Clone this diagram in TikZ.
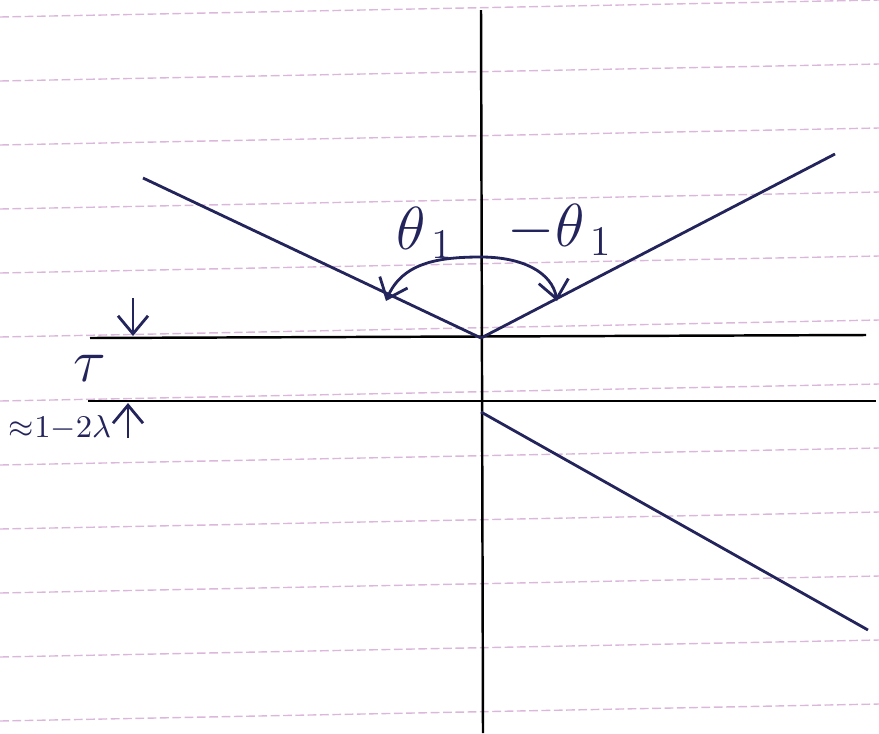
\documentclass[tikz,border=0pt]{standalone}
\usepackage{amsmath,amssymb}
\usepackage{tikz}
\usetikzlibrary{arrows.meta}

\definecolor{ink}{rgb}{0.14,0.14,0.36}
\definecolor{ruled}{rgb}{0.86,0.72,0.86}

\tikzset{
  ruling/.style={ruled, line width=0.4pt, dash pattern=on 2.5pt off 1pt},
  axis/.style={black, line width=0.7pt},
  ray/.style={ink, line width=0.8pt},
  tick/.style={ink, line width=0.8pt},
  lbl/.style={ink, inner sep=0pt}
}

\begin{document}
\begin{tikzpicture}[x=0.01cm, y=-0.01cm, >={Straight Barb[length=1.8mm,width=3mm]}]
	\useasboundingbox (0,0) rectangle (879,733);
	
	% notebook ruling
	\foreach \y in {17,81,...,721}
		\draw[ruling] (0,\y) -- (879,{\y-17});
	
	% axes and interfaces
	\coordinate (top) at (481,10);
	\coordinate (bot) at (483,733);
	\coordinate (o) at (481,338);
	\coordinate (s1) at (90,338);
	\coordinate (s2) at (866,335);
	\coordinate (b1) at (88,401);
	\coordinate (b2) at (876,401);
	\draw[axis] (top) -- (bot);
	\draw[axis] (s1) -- (s2);
	\draw[axis] (b1) -- (b2);
	
	% rays
	\coordinate (inc) at (143,178);
	\coordinate (refl) at (835,154);
	\coordinate (t0) at (481,412);
	\coordinate (t1) at (868,630);
	\draw[ray] (inc) -- (o);
	\draw[ray] (o) -- (refl);
	\draw[ray] (t0) -- (t1);
	
	% angle arc
	\coordinate (aL) at (386,301);
	\coordinate (aT) at (481,257);
	\coordinate (aR) at (557,301);
	\draw[tick, <->] (aL) .. controls (402,262) and (440,257) .. (aT)
		.. controls (522,257) and (552,272) .. (aR);
	
	% thickness arrows
	\coordinate (dA) at (133,298);
	\coordinate (dB) at (133,336);
	\coordinate (uA) at (128,438);
	\coordinate (uB) at (128,403);
	\draw[tick, ->] (dA) -- (dB);
	\draw[tick, ->] (uA) -- (uB);
	
	% labels
	\node[lbl, font=\fontsize{17}{20}\selectfont] (th) at (425,233) {$\theta_{\,1}$};
	\node[lbl, font=\fontsize{17}{20}\selectfont] (mth) at (560,230) {$-\theta_{\,1}$};
	\node[lbl, font=\fontsize{19}{22}\selectfont] (tau) at (90,368) {$\tau$};
	\node[lbl, font=\fontsize{9}{11}\selectfont] (width) at (60,428) {${\approx}1{-}2\lambda$};
\end{tikzpicture}
\end{document}
